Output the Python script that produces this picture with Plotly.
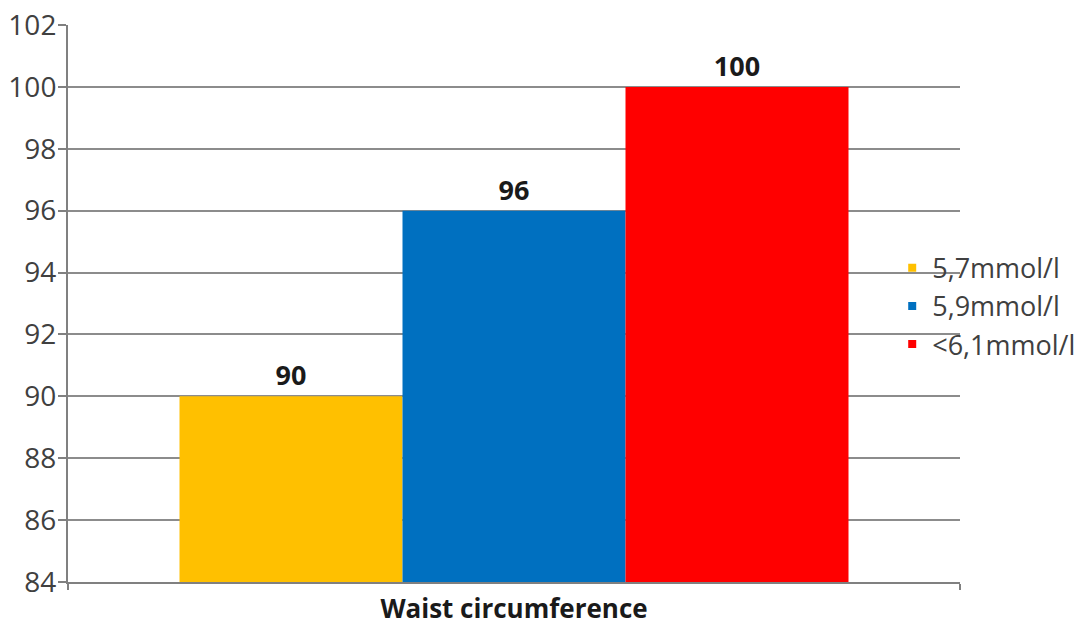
import plotly.graph_objects as go

categories = ["Waist circumference"]
series_names = ["5,7mmol/l", "5,9mmol/l", "<6,1mmol/l"]
series_values = [[90], [96], [100]]
series_colors = ["#FFC000", "#0070C0", "#FF0000"]
y_ticks = list(range(84, 103, 2))

fig = go.Figure()

for name, vals, color in zip(series_names, series_values, series_colors):
    fig.add_trace(go.Bar(
        x=categories,
        y=vals,
        name=name,
        marker=dict(color=color, line=dict(width=0)),
        text=[str(v) for v in vals],
        textposition="outside",
        cliponaxis=False,
        textfont=dict(family="Open Sans", size=27, color="#1a1a1a", weight="bold"),
        showlegend=False,
    ))
    # small square legend entry
    fig.add_trace(go.Scatter(
        x=[None], y=[None], mode="markers", name=name,
        marker=dict(symbol="square", size=8, color=color),
        showlegend=True,
    ))

fig.update_layout(
    width=1090, height=626,
    margin=dict(l=68, r=130, t=25, b=44, autoexpand=False),
    paper_bgcolor="white",
    plot_bgcolor="white",
    barmode="group",
    bargap=0.25,
    bargroupgap=0,
    font=dict(family="Open Sans", color="#404040"),
    legend=dict(
        x=0.924, xanchor="left", y=0.495, yanchor="middle",
        bgcolor="rgba(0,0,0,0)",
        font=dict(family="Open Sans", size=27, color="#404040"),
        itemwidth=30,
        tracegroupgap=0,
    ),
)

fig.update_yaxes(
    range=[84, 102],
    tickvals=y_ticks,
    automargin=False,
    ticks="outside", ticklen=8, tickcolor="#808080", tickwidth=2,
    ticklabelstandoff=-4,
    showgrid=True, gridcolor="#8c8c8c", gridwidth=2,
    showline=True, linecolor="#808080", linewidth=2,
    tickfont=dict(family="Open Sans", size=28, color="#404040"),
    zeroline=False,
)
fig.update_xaxes(
    tickson="boundaries",
    automargin=False,
    ticks="outside", ticklen=6, tickcolor="#808080", tickwidth=2,
    ticklabelstandoff=3,
    showline=True, linecolor="#808080", linewidth=2,
    tickfont=dict(family="Open Sans", size=26, color="#1a1a1a", weight="bold"),
)

fig.write_html("out.html")
